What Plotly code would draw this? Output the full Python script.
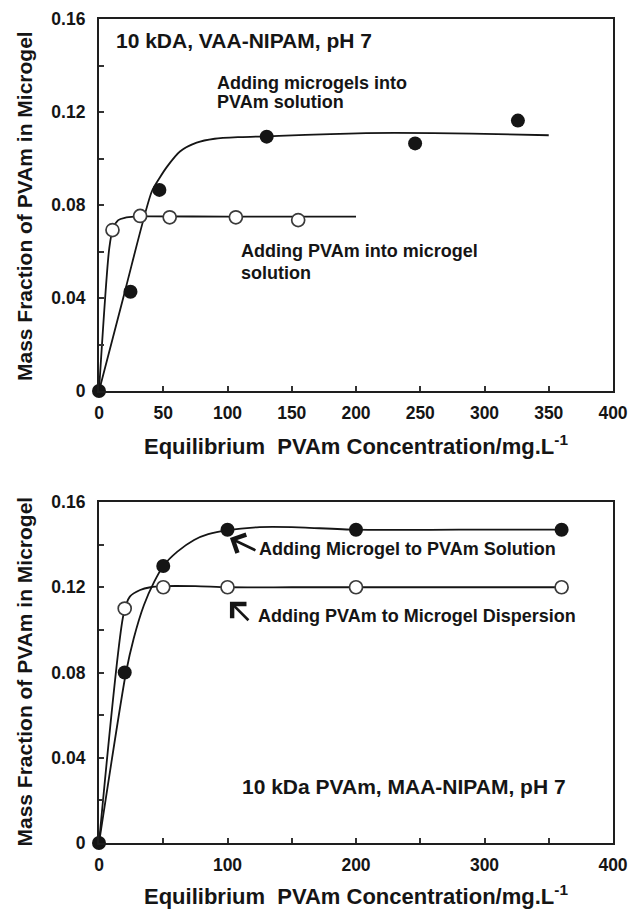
import plotly.graph_objects as go

# ---------------- upper panel: 10 kDa PVAm, VAA-NIPAM microgel, pH 7 ----------------
# microgels added into PVAm solution (filled circles)
up_filled_x = [0, 24.5, 47, 130.5, 246, 326]
up_filled_y = [0, 0.0427, 0.0865, 0.1094, 0.1065, 0.1163]
# PVAm added into microgel solution (open circles)
up_open_x = [10.5, 32, 55, 106.5, 155]
up_open_y = [0.0692, 0.0753, 0.0747, 0.0747, 0.0735]
# guide curves through the data
up_fit_filled_x = [0, 20, 41, 47, 53, 63, 76, 90, 110, 140, 180, 230, 290, 350]
up_fit_filled_y = [0, 0.0425, 0.0857, 0.0915, 0.0965, 0.1030, 0.1068, 0.1085, 0.1092,
                   0.1097, 0.1105, 0.1110, 0.1107, 0.1100]
up_fit_open_x = [0, 8, 11, 15, 20, 28, 40, 100, 200]
up_fit_open_y = [0, 0.0615, 0.0700, 0.0735, 0.0745, 0.0750, 0.0751, 0.0750, 0.0750]

# ---------------- lower panel: 10 kDa PVAm, MAA-NIPAM microgel, pH 7 ----------------
lo_filled_x = [0, 20, 50, 100, 200, 360]
lo_filled_y = [0, 0.080, 0.130, 0.147, 0.147, 0.147]
lo_open_x = [20, 50, 100, 200, 360]
lo_open_y = [0.110, 0.120, 0.120, 0.120, 0.120]
lo_fit_filled_x = [0, 21, 27, 35, 43, 50, 61, 74, 85, 100, 125, 150, 200, 280, 360]
lo_fit_filled_y = [0, 0.080, 0.096, 0.1117, 0.1226, 0.1300, 0.1367, 0.1422, 0.1449,
                   0.1468, 0.1482, 0.1482, 0.1470, 0.1470, 0.1470]
lo_fit_open_x = [0, 19, 24, 32, 40, 50, 75, 100, 150, 200, 280, 360]
lo_fit_open_y = [0, 0.107, 0.1156, 0.1187, 0.1200, 0.1205, 0.1205, 0.1200, 0.1200,
                 0.1200, 0.1200, 0.1200]

# axis ticks
y_tickvals = [0, 0.02, 0.04, 0.06, 0.08, 0.10, 0.12, 0.14, 0.16]
y_ticktext = ["0", "", "0.04", "", "0.08", "", "0.12", "", "0.16"]
up_x_tickvals = [0, 50, 100, 150, 200, 250, 300, 350, 400]
up_x_ticktext = ["0", "50", "100", "150", "200", "250", "300", "350", "400"]
lo_x_tickvals = [0, 50, 100, 150, 200, 250, 300, 350, 400]
lo_x_ticktext = ["0", "", "100", "", "200", "", "300", "", "400"]

FONT = "Liberation Sans, Arial, Helvetica, sans-serif"
INK = "#151515"

fig = go.Figure()


def add_panel(xa, ya, fit_f, fit_o, filled, opened):
    for fx, fy in (fit_o, fit_f):
        fig.add_trace(go.Scatter(
            x=fx, y=fy, mode="lines", xaxis=xa, yaxis=ya, showlegend=False,
            hoverinfo="skip",
            line=dict(color=INK, width=1.8, shape="spline", smoothing=0.7)))
    fig.add_trace(go.Scatter(
        x=opened[0], y=opened[1], mode="markers", xaxis=xa, yaxis=ya,
        showlegend=False, cliponaxis=False,
        marker=dict(symbol="circle", size=13, color="white",
                    line=dict(color="#3a3a3a", width=1.7))))
    fig.add_trace(go.Scatter(
        x=filled[0], y=filled[1], mode="markers", xaxis=xa, yaxis=ya,
        showlegend=False, cliponaxis=False,
        marker=dict(symbol="circle", size=14, color=INK,
                    line=dict(color=INK, width=0))))


add_panel("x", "y", (up_fit_filled_x, up_fit_filled_y), (up_fit_open_x, up_fit_open_y),
          (up_filled_x, up_filled_y), (up_open_x, up_open_y))
add_panel("x2", "y2", (lo_fit_filled_x, lo_fit_filled_y), (lo_fit_open_x, lo_fit_open_y),
          (lo_filled_x, lo_filled_y), (lo_open_x, lo_open_y))

W, H = 628, 909
x_dom = [99 / W, 613 / W]
up_dom = [1 - 391 / H, 1 - 19 / H]
lo_dom = [1 - 843 / H, 1 - 502 / H]

tickfont = dict(family=FONT, size=17.5, color=INK, weight=700)
axis_common = dict(showline=True, linecolor="#1e1e1e", linewidth=2.2, mirror=True,
                   ticks="inside", ticklen=5, tickwidth=1.5, tickcolor="#333",
                   showgrid=False, zeroline=False, tickfont=tickfont,
                   automargin=False, ticklabeloverflow="allow")

fig.update_layout(
    template="none",
    width=W, height=H, margin=dict(l=0, r=0, t=0, b=0, autoexpand=False),
    paper_bgcolor="white", plot_bgcolor="white",
    font=dict(family=FONT, color=INK),
    xaxis=dict(domain=x_dom, anchor="y", range=[0, 400], tickvals=up_x_tickvals,
               ticktext=up_x_ticktext, ticklabelstandoff=5, **axis_common),
    yaxis=dict(domain=up_dom, anchor="x", range=[0, 0.16], tickvals=y_tickvals,
               ticktext=y_ticktext, ticklabelstandoff=8, **axis_common),
    xaxis2=dict(domain=x_dom, anchor="y2", range=[0, 400], tickvals=lo_x_tickvals,
                ticktext=lo_x_ticktext, ticklabelstandoff=5, **axis_common),
    yaxis2=dict(domain=lo_dom, anchor="x2", range=[0, 0.16], tickvals=y_tickvals,
                ticktext=y_ticktext, ticklabelstandoff=8, **axis_common),
)

title_font = dict(family=FONT, size=21, color=INK, weight=700)
xtitle_font = dict(family=FONT, size=22, color=INK, weight=700)
note_font = dict(family=FONT, size=18, color=INK, weight=700)

annotations = []
# axis titles
for yc in (1 - 445 / H, 1 - 895 / H):
    annotations.append(dict(
        text="Equilibrium  PVAm Concentration/mg.L<sup>-1</sup>", xref="paper",
        yref="paper", x=355.5 / W, y=yc, xanchor="center", yanchor="middle",
        showarrow=False, font=xtitle_font))
for yc in (1 - 206 / H, 1 - 671.5 / H):
    annotations.append(dict(
        text="Mass Fraction of PVAm in Microgel", xref="paper", yref="paper",
        x=24 / W, y=yc, xanchor="center", yanchor="middle", textangle=-90,
        showarrow=False, font=title_font))

# upper panel labels
annotations += [
    dict(text="10 kDA, VAA-NIPAM, pH 7", xref="x", yref="y", x=12.0, y=0.1507,
         xanchor="left", yanchor="middle", showarrow=False, font=title_font),
    dict(text="Adding microgels into", xref="x", yref="y", x=90.5, y=0.1326,
         xanchor="left", yanchor="middle", showarrow=False, font=note_font),
    dict(text="PVAm solution", xref="x", yref="y", x=90.5, y=0.1244,
         xanchor="left", yanchor="middle", showarrow=False, font=note_font),
    dict(text="Adding PVAm into microgel", xref="x", yref="y", x=108.7, y=0.0603,
         xanchor="left", yanchor="middle", showarrow=False, font=note_font),
    dict(text="solution", xref="x", yref="y", x=108.7, y=0.0509,
         xanchor="left", yanchor="middle", showarrow=False, font=note_font),
]

# lower panel labels and arrows
annotations += [
    dict(text="Adding Microgel to PVAm Solution", xref="x2", yref="y2", x=123.2,
         y=0.138, xanchor="left", yanchor="middle", showarrow=False, font=note_font),
    dict(text="Adding PVAm to Microgel Dispersion", xref="x2", yref="y2", x=122.5,
         y=0.1066, xanchor="left", yanchor="middle", showarrow=False, font=note_font),
    dict(text="10 kDa PVAm, MAA-NIPAM, pH 7", xref="x2", yref="y2", x=110.0,
         y=0.0264, xanchor="left", yanchor="middle", showarrow=False, font=title_font),
    dict(text="", xref="x2", yref="y2", x=101.9, y=0.1431, ax=27, ay=13,
         showarrow=True, arrowhead=4, arrowsize=1.5, arrowwidth=2.6, arrowcolor=INK),
    dict(text="", xref="x2", yref="y2", x=101.9, y=0.1132, ax=20, ay=20,
         showarrow=True, arrowhead=4, arrowsize=1.5, arrowwidth=2.6, arrowcolor=INK),
]
fig.update_layout(annotations=annotations)

fig.write_html("out.html")
